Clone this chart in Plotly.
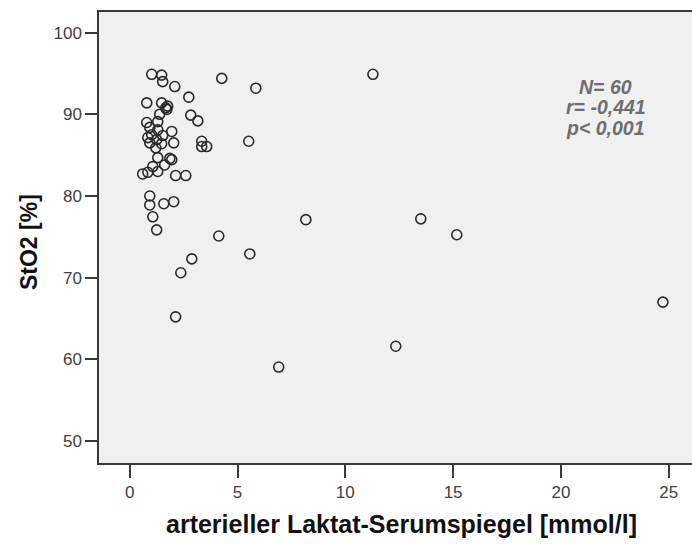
import plotly.graph_objects as go

# Arterial lactate (mmol/l) and tissue oxygen saturation StO2 (%) per patient
laktat = [
    1.02, 1.48, 1.53, 2.09, 4.27, 2.74, 5.85, 11.28, 0.79, 1.48,
    1.67, 1.72, 1.39, 2.83, 3.16, 0.79, 0.93, 1.30, 1.95, 0.84,
    1.53, 1.25, 2.04, 1.21, 3.34, 3.34, 3.57, 5.52, 1.30, 1.95,
    1.07, 0.60, 0.84, 1.30, 2.13, 2.60, 0.93, 0.93, 1.58, 2.04,
    1.07, 1.25, 4.13, 2.88, 2.37, 2.13, 8.17, 5.57, 6.91, 13.50,
    15.17, 12.34, 24.73, 1.30, 0.93, 1.48, 1.86, 1.76, 1.02, 1.62,
]
sto2 = [
    94.9, 94.8, 94.0, 93.4, 94.4, 92.1, 93.2, 94.9, 91.4, 91.4,
    90.8, 90.6, 90.0, 89.9, 89.2, 89.0, 88.4, 88.1, 87.9, 87.15,
    87.4, 86.9, 86.5, 85.9, 86.7, 86.05, 86.05, 86.7, 84.7, 84.45,
    83.6, 82.7, 82.9, 83.0, 82.5, 82.5, 80.0, 78.9, 79.05, 79.3,
    77.45, 75.85, 75.1, 72.3, 70.6, 65.2, 77.1, 72.9, 59.05, 77.2,
    75.25, 61.6, 67.0, 89.1, 86.5, 86.4, 84.6, 91.0, 87.5, 83.8,
]

x_ticks = [0, 5, 10, 15, 20, 25]
y_ticks = [50, 60, 70, 80, 90, 100]
stats_lines = ["N= 60", "r= -0,441", "p< 0,001"]
stats_y = [93.4, 90.95, 88.38]

FONT = "Liberation Sans, Arial, sans-serif"
AXIS_COLOR = "#3a3a3a"

fig = go.Figure()
fig.add_trace(go.Scatter(
    x=laktat, y=sto2, mode="markers",
    marker=dict(symbol="circle-open", size=10, color="#2a2a2a",
                line=dict(width=1.6, color="#2a2a2a")),
    showlegend=False, hoverinfo="x+y",
))

# correlation summary in the upper right corner
for txt, yy in zip(stats_lines, stats_y):
    fig.add_annotation(
        x=22.09, y=yy, xref="x", yref="y", text=f"<b><i>{txt}</i></b>",
        showarrow=False, xanchor="center", yanchor="middle",
        font=dict(family=FONT, size=19.5, color="#6e6e6e"),
    )

# axis titles, placed as paper-anchored labels
fig.add_annotation(
    x=0.51, y=-0.135, xref="paper", yref="paper",
    text="<b>arterieller Laktat-Serumspiegel [mmol/l]</b>",
    showarrow=False, xanchor="center", yanchor="middle",
    font=dict(family=FONT, size=25, color="#111111"),
)
fig.add_annotation(
    x=-0.118, y=0.49, xref="paper", yref="paper",
    text="<b>StO2 [%]</b>", textangle=-90,
    showarrow=False, xanchor="center", yanchor="middle",
    font=dict(family=FONT, size=23, color="#111111"),
)

fig.update_layout(
    width=692, height=544,
    margin=dict(l=99, r=0, t=12, b=81),
    paper_bgcolor="white", plot_bgcolor="#F0F0F0",
    font=dict(family=FONT),
)
fig.update_xaxes(
    range=[-1.425, 26.08], tickvals=x_ticks, ticktext=[str(v) for v in x_ticks],
    showgrid=False, zeroline=False,
    showline=True, mirror=True, linecolor=AXIS_COLOR, linewidth=1.5,
    ticks="outside", ticklen=13, tickwidth=1.5, tickcolor=AXIS_COLOR,
    tickfont=dict(family=FONT, size=17, color="#404040"),
)
fig.update_yaxes(
    range=[47.30, 102.53], tickvals=y_ticks, ticktext=[str(v) for v in y_ticks],
    showgrid=False, zeroline=False,
    showline=True, mirror=False, linecolor=AXIS_COLOR, linewidth=1.5,
    ticks="outside", ticklen=12, tickwidth=1.5, tickcolor=AXIS_COLOR,
    tickfont=dict(family=FONT, size=17, color="#404040"),
)

fig.write_html("out.html")
